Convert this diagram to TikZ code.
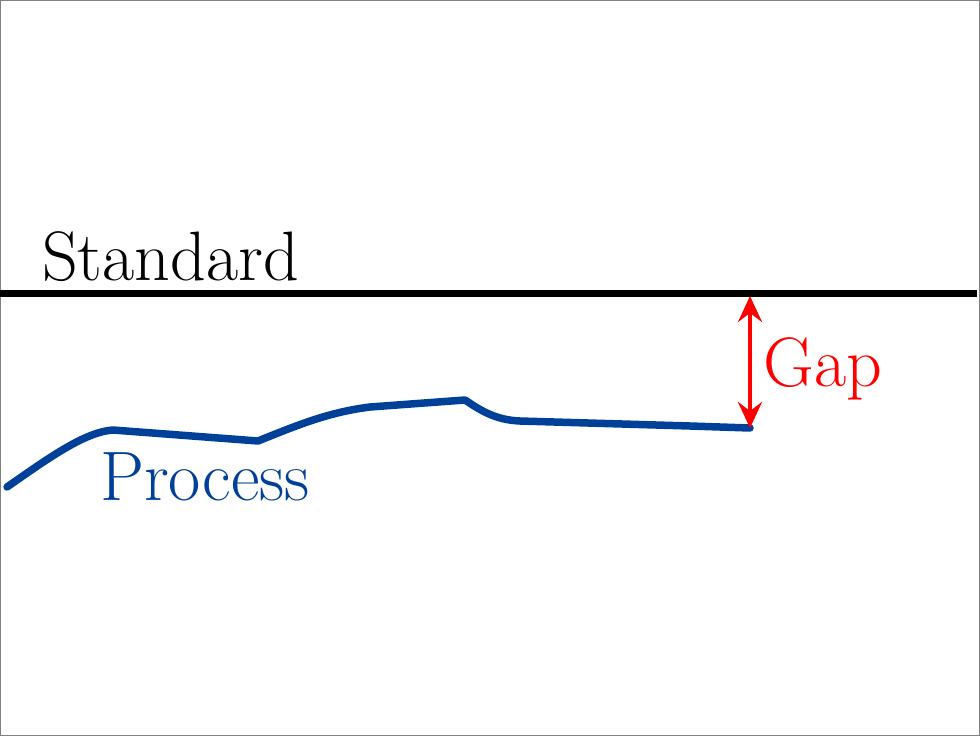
\documentclass[tikz,border=0pt]{standalone}
\usetikzlibrary{arrows.meta}
\definecolor{procblue}{RGB}{0,64,152}
\begin{document}
\begin{tikzpicture}[x=1pt,y=-1pt,
  lbl/.style={inner sep=0pt,anchor=base west,font=\fontsize{70}{74}\selectfont},
  gaptip/.tip={Stealth[length=26pt,width=24pt,inset=9pt]}]
\useasboundingbox (0,0) rectangle (980,736);
\draw[gray,line width=1.2pt] (0.6,0.6) rectangle (979.4,735.4);
\coordinate (sl) at (0,293);
\coordinate (sr) at (977,293);
\draw[line width=7pt] (sl) -- (sr);
\node[lbl] (std) at (42,280) {Standard};
\coordinate (ps) at (7,487);
\coordinate (pe) at (750,428);
\draw[procblue,line width=7.5pt,line cap=round,line join=round]
  (ps) .. controls (50,457) and (85,432) .. (113,430)
  -- (258,441)
  .. controls (300,424) and (330,412) .. (370,407)
  -- (465,400)
  .. controls (480,410) and (495,420) .. (520,421)
  -- (690,426) -- (pe);
\node[lbl,text=procblue] (proc) at (100,500) {Process};
\coordinate (at) at (750,296);
\draw[red,line width=4.5pt,{gaptip}-{gaptip}] (at) -- (pe);
\node[lbl,text=red] (gap) at (763,386) {Gap};
\end{tikzpicture}
\end{document}
